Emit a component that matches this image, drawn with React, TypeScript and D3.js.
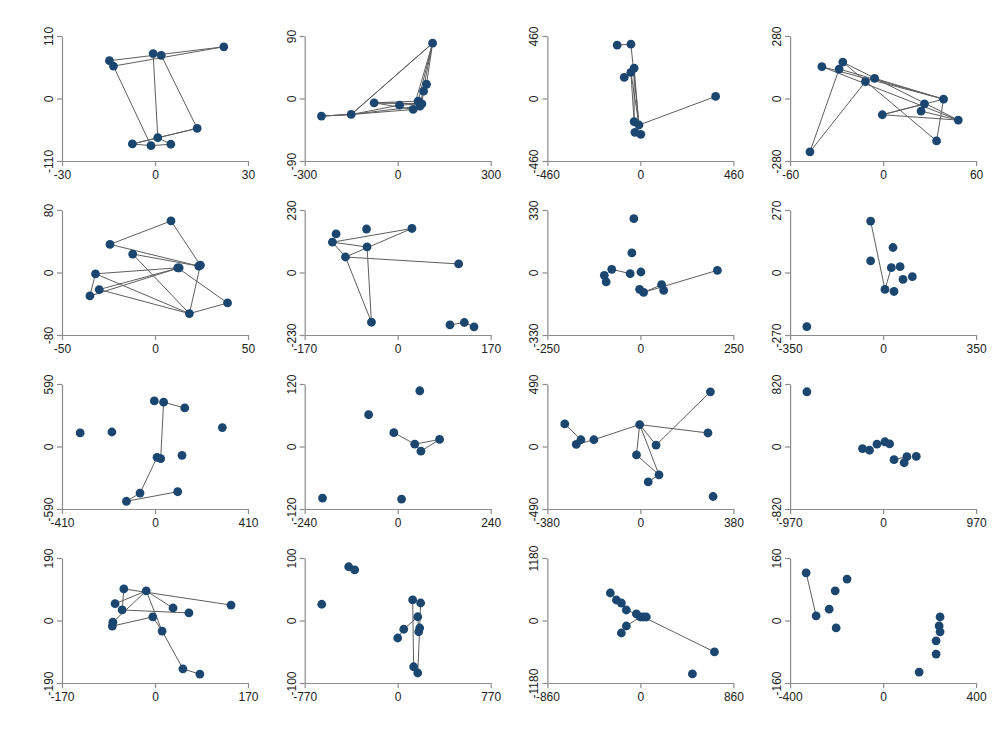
import React, { useEffect, useRef } from 'react';
import * as d3 from 'd3';

const width = 997;
const height = 732;
const plotW = 186;
const plotH = 125;
const origin = { left: 62, top: 36 };
const step = { x: 242.7, y: 174 };

// symmetric axis limits of every panel, row by row
const xLimits = [30, 300, 460, 60, 50, 170, 250, 350, 410, 240, 380, 970, 170, 770, 860, 400];
const yLimits = [110, 90, 460, 280, 80, 230, 330, 270, 590, 120, 490, 820, 190, 100, 1180, 160];

// points of each panel [x, y]
const panelPoints: [number, number][][] = [
  [[22.2, 91], [-0.6, 79], [2, 76], [-14.7, 66.5], [-13.4, 57], [13.6, -52.5], [0.9, -69], [-7.3, -80], [-1.3, -83], [5.1, -80.5]],
  [[112.6, 79.7], [93, 20.5], [83.5, 10.5], [-76, -6.2], [6, -9.6], [66, -3.8], [78, -7.6], [71.6, -11], [50, -15.8], [-150, -23], [-246, -25.3]],
  [[-115, 393], [-47, 400], [-31, 224], [-47, 193], [-80, 156], [372, 15], [-31, -171], [-7, -195], [-27, -249], [2, -264]],
  [[-39.5, 142.6], [-26, 163], [-28.4, 132], [-11.4, 75.8], [-5.5, 90.6], [39, -3], [26.7, -23.8], [24.5, -56.5], [-0.5, -72.8], [48.5, -96.6], [34.5, -190], [-47.2, -239]],
  [[8.6, 66], [-24.2, 36], [-12, 23.6], [23.5, 8.2], [24.4, 9.4], [12.2, 6], [13, 6], [-32, -1.7], [-30, -21.8], [-35, -30], [39, -39], [18.5, -52.6]],
  [[-112.6, 142], [-57, 160], [26, 162], [-119.4, 111.6], [-56, 94], [-95.5, 57], [111.4, 31.5], [-48, -183], [95.5, -193], [121.8, -184], [139.5, -200]],
  [[-17.6, 284], [-23, 103.5], [-77, 16.8], [-27.5, -6], [1.4, 2.7], [-97, -15], [-92, -50], [207, 11.5], [57, -64.6], [62.6, -94.7], [-2.2, -89], [8.6, -105]],
  [[-47, 222], [37.2, 108], [-47, 50], [31, 21], [64, 25], [75, -30], [110, -18], [7, -73], [41, -82], [-287, -234]],
  [[-3, 430], [38, 418], [131, 364], [-330, 128], [-190, 137], [297, 179], [119, -83], [9, -102], [25, -115], [-66, -440], [100, -427], [-126, -517]],
  [[57, 107], [-75, 61], [-10, 26.6], [44, 4.5], [108, 13.6], [60, -9], [-194, -99], [10, -101]],
  [[286, 429], [-309, 177], [-3, 172], [-243, 53], [-190, 53], [-262, 16], [276, 106], [64, 11], [-16, -66], [76, -222], [32, -278], [297, -392]],
  [[-795, 718], [-215, -27], [-142, -49], [-64, 31], [19, 62], [68, 35], [114, -173], [220, -213], [248, -133], [346, -129]],
  [[-57, 96], [-73, 51], [-60, 32], [-16, 90], [-77, -5], [-78, -17], [33, 38], [62, 23], [-4, 11], [139, 47], [13, -32], [51, -147], [82, -163]],
  [[-629, 26], [-406, 86], [-356, 81], [124, 33], [190, 28], [0, -28], [50, -14], [166, 6], [182, -12], [174, -18], [132, -74], [166, -84]],
  [[-278, 519], [-222, 387], [-176, 330], [-130, 198], [-37, 123], [0, 66], [28, 66], [55, 66], [-130, -104], [-176, -236], [685, -594], [481, -1009]],
  [[-331, 122], [-288, 12], [-232, 29], [-206, 76], [-155, 106], [-202, -19], [245, 9], [241, -14], [245, -29], [228, -52], [228, -86], [155, -132]],
];

// connecting paths, as point indices
const panelPaths: number[][][] = [
  [[3, 0, 4, 8, 7, 5, 2, 1, 6, 9, 8], [7, 6, 5]],
  [[10, 9, 0, 1, 2, 6, 3, 5, 0, 7, 9, 10, 9, 8, 3, 6, 4, 9], [9, 0, 8]],
  [[0, 1, 7, 2, 6, 3, 7, 5]],
  [[11, 2, 5, 0, 9, 1, 10, 5, 8, 9, 7, 6, 8], [4, 3, 11], [4, 5]],
  [[11, 2, 3, 1, 0, 4, 11, 10, 5, 7, 9, 6, 8, 11, 7]],
  [[6, 5, 7, 4, 3, 2, 5, 3], [8, 9, 10]],
  [[2, 3], [5, 6], [7, 11, 10], [11, 8, 9]],
  [[0, 7, 3]],
  [[2, 1, 8, 7, 9, 11, 10]],
  [[2, 3, 4, 5, 3]],
  [[1, 3, 5, 4, 2, 6], [2, 7, 0], [2, 8, 9, 2], [9, 10]],
  [[6, 8]],
  [[9, 0, 2, 7], [1, 3, 10, 11, 12], [4, 3, 6], [5, 8, 10]],
  [[3, 10], [4, 8, 11], [5, 6, 7, 9]],
  [[0, 1, 2, 3, 4, 5, 6, 7], [9, 8, 5], [6, 10]],
  [[0, 1]],
];

function App() {
  const ref = useRef<SVGSVGElement>(null);

  useEffect(() => {
    const svg = d3.select(ref.current);
    svg.selectAll('*').remove();

    panelPoints.forEach((pts, i) => {
      const col = i % 4;
      const row = Math.floor(i / 4);
      const g = svg
        .append('g')
        .attr('transform', `translate(${origin.left + col * step.x},${origin.top + row * step.y})`);

      const x = d3.scaleLinear().domain([-xLimits[i], xLimits[i]]).range([0, plotW]);
      const y = d3.scaleLinear().domain([-yLimits[i], yLimits[i]]).range([plotH, 0]);
      const fmt = (d: d3.NumberValue) => String(d);

      const xAxis = g
        .append('g')
        .attr('transform', `translate(0,${plotH})`)
        .call(
          d3.axisBottom(x)
            .tickValues([-xLimits[i], 0, xLimits[i]])
            .tickFormat(fmt)
            .tickSize(5)
            .tickSizeOuter(0)
            .tickPadding(4)
        );
      const yAxis = g
        .append('g')
        .call(
          d3.axisLeft(y)
            .tickValues([-yLimits[i], 0, yLimits[i]])
            .tickFormat(fmt)
            .tickSize(5)
            .tickSizeOuter(0)
        );

      [xAxis, yAxis].forEach(ax => {
        ax.select('.domain').attr('stroke', '#8c8c8c').attr('stroke-width', 1.2);
        ax.selectAll('line').attr('stroke', '#8c8c8c').attr('stroke-width', 1.2);
        ax.selectAll('text')
          .attr('fill', '#222')
          .style('font-family', '"Liberation Sans", Arial, sans-serif')
          .style('font-size', '12px');
      });
      yAxis.selectAll('text')
        .attr('transform', 'rotate(-90)')
        .attr('x', 0)
        .attr('y', -9)
        .attr('dy', 0)
        .attr('text-anchor', 'middle');

      const line = d3
        .line<number>()
        .x(k => x(pts[k][0]))
        .y(k => y(pts[k][1]));

      g.selectAll('path.link')
        .data(panelPaths[i])
        .join('path')
        .attr('class', 'link')
        .attr('d', d => line(d))
        .attr('fill', 'none')
        .attr('stroke', '#5e5e5e')
        .attr('stroke-width', 1);

      g.selectAll('circle')
        .data(pts)
        .join('circle')
        .attr('cx', d => x(d[0]))
        .attr('cy', d => y(d[1]))
        .attr('r', 4.4)
        .attr('fill', '#1a4670');
    });
  }, []);

  return (
    <svg
      ref={ref}
      width={width}
      height={height}
      style={{ position: 'absolute', left: 0, top: 0, background: 'white' }}
    />
  );
}

export default App;
